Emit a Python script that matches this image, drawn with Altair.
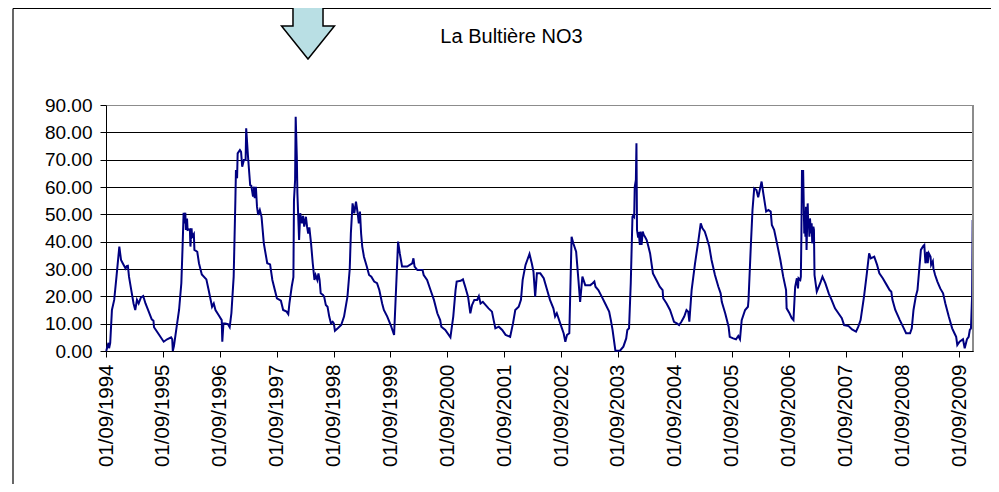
import altair as alt
import pandas as pd

# ---- data (decimal year, NO3 value) ----
years = [
    1994.67, 1994.69, 1994.71, 1994.72, 1994.74, 1994.77, 1994.81, 1994.85, 1994.90, 1994.93,
    1994.96, 1995.01, 1995.03, 1995.05, 1995.07, 1995.11, 1995.15, 1995.18, 1995.21, 1995.24,
    1995.28, 1995.32, 1995.36, 1995.41, 1995.47, 1995.50, 1995.51, 1995.59, 1995.68, 1995.74,
    1995.81, 1995.83, 1995.84, 1995.86, 1995.90, 1995.95, 1995.99, 1996.01, 1996.03, 1996.04,
    1996.06, 1996.07, 1996.09, 1996.10, 1996.14, 1996.15, 1996.17, 1996.18, 1996.21, 1996.22,
    1996.27, 1996.30, 1996.35, 1996.43, 1996.47, 1996.53, 1996.56, 1996.59, 1996.65, 1996.70,
    1996.71, 1996.73, 1996.76, 1996.81, 1996.84, 1996.87, 1996.91, 1996.94, 1996.95, 1996.97,
    1996.98, 1997.02, 1997.04, 1997.06, 1997.09, 1997.12, 1997.13, 1997.16, 1997.20, 1997.22,
    1997.25, 1997.27, 1997.28, 1997.30, 1997.32, 1997.34, 1997.37, 1997.40, 1997.44, 1997.50,
    1997.55, 1997.59, 1997.67, 1997.74, 1997.78, 1997.84, 1997.87, 1997.89, 1997.93, 1997.96,
    1997.97, 1997.99, 1998.00, 1998.02, 1998.03, 1998.06, 1998.08, 1998.11, 1998.13, 1998.15,
    1998.18, 1998.20, 1998.22, 1998.24, 1998.27, 1998.30, 1998.33, 1998.35, 1998.38, 1998.40,
    1998.42, 1998.44, 1998.48, 1998.50, 1998.53, 1998.56, 1998.59, 1998.62, 1998.65, 1998.67,
    1998.69, 1998.74, 1998.80, 1998.85, 1998.91, 1998.95, 1998.97,
    1999.00, 1999.03, 1999.06, 1999.09, 1999.11, 1999.13, 1999.15, 1999.17, 1999.20, 1999.25,
    1999.29, 1999.33, 1999.38, 1999.43, 1999.47, 1999.52, 1999.55, 1999.61, 1999.67, 1999.73,
    1999.80, 1999.83, 1999.87, 1999.96, 2000.05, 2000.07, 2000.09, 2000.14, 2000.23, 2000.25,
    2000.31, 2000.37, 2000.43, 2000.49, 2000.54, 2000.56, 2000.63, 2000.72, 2000.77, 2000.81,
    2000.83, 2000.90, 2000.94, 2000.98, 2001.03, 2001.07, 2001.10, 2001.14, 2001.19, 2001.22,
    2001.25, 2001.29, 2001.34, 2001.39, 2001.45, 2001.48, 2001.51, 2001.57, 2001.63, 2001.69,
    2001.77, 2001.82, 2001.86, 2001.92, 2001.96, 2001.99, 2002.04, 2002.11, 2002.15, 2002.18,
    2002.21, 2002.24, 2002.30, 2002.36, 2002.42, 2002.47, 2002.53, 2002.56, 2002.59, 2002.65,
    2002.71, 2002.74, 2002.77, 2002.81, 2002.85, 2002.88, 2002.93, 2002.97, 2003.00, 2003.04,
    2003.09, 2003.13, 2003.18, 2003.22, 2003.25, 2003.27, 2003.32, 2003.38, 2003.44, 2003.51,
    2003.54, 2003.57, 2003.62, 2003.70, 2003.76, 2003.81, 2003.83, 2003.86, 2003.89, 2003.92,
    2003.93, 2003.95, 2003.96, 2003.98, 2003.99, 2004.00, 2004.02, 2004.03, 2004.05, 2004.06,
    2004.08, 2004.10, 2004.12, 2004.14, 2004.17, 2004.20,
    2004.23, 2004.28, 2004.34, 2004.40, 2004.45, 2004.46, 2004.52, 2004.58, 2004.63, 2004.65,
    2004.70, 2004.74, 2004.78, 2004.83, 2004.87, 2004.90, 2004.92, 2004.96, 2005.02, 2005.08,
    2005.12, 2005.15, 2005.19, 2005.22, 2005.27, 2005.31, 2005.37, 2005.43, 2005.47, 2005.49,
    2005.55, 2005.61, 2005.63, 2005.69, 2005.74, 2005.78, 2005.81, 2005.84, 2005.90, 2005.95,
    2005.96, 2006.00, 2006.03, 2006.06, 2006.10, 2006.13, 2006.19, 2006.22, 2006.27, 2006.31,
    2006.35, 2006.37, 2006.41, 2006.46, 2006.52, 2006.57, 2006.62, 2006.63, 2006.68, 2006.72,
    2006.75, 2006.78, 2006.81, 2006.83, 2006.84, 2006.87, 2006.88, 2006.89, 2006.90, 2006.91,
    2006.92, 2006.94, 2006.95, 2006.96, 2006.97, 2006.98, 2007.00, 2007.01, 2007.02, 2007.03,
    2007.04, 2007.06, 2007.07, 2007.08, 2007.10, 2007.11, 2007.12, 2007.16, 2007.22, 2007.26,
    2007.31, 2007.37, 2007.42, 2007.48, 2007.54, 2007.60, 2007.64, 2007.72, 2007.78, 2007.85,
    2007.89, 2007.93, 2007.99, 2008.04, 2008.08, 2008.11, 2008.17, 2008.22, 2008.26, 2008.32,
    2008.39, 2008.44, 2008.47, 2008.49, 2008.54, 2008.62, 2008.69, 2008.73, 2008.80, 2008.83,
    2008.86, 2008.90, 2008.93, 2008.97, 2008.99, 2009.03, 2009.05, 2009.07, 2009.10, 2009.11,
    2009.13, 2009.16, 2009.17, 2009.20, 2009.21, 2009.24, 2009.28, 2009.33, 2009.38, 2009.42,
    2009.48, 2009.54, 2009.58, 2009.61, 2009.63, 2009.67, 2009.73, 2009.76, 2009.80, 2009.83,
    2009.85, 2009.87, 2009.89, 2009.90,
]

no3 = [
    0.0, 1.6, 3.0, 1.0, 3.0, 15.0, 18.7, 27.2, 38.2, 33.3,
    32.1, 30.2, 31.1, 31.2, 27.2, 22.3, 17.4, 15.0, 18.7, 17.4,
    19.6, 20.1, 17.4, 14.8, 11.6, 11.1, 8.7, 6.2, 3.4, 4.3,
    5.0, 4.3, 0.0, 1.8, 7.7, 15.0, 24.8, 37.0, 50.6, 46.7,
    50.6, 44.3, 48.5, 44.3, 44.5, 38.2, 44.9, 41.8, 42.8, 37.0,
    36.3, 32.1, 28.0, 26.2, 22.3, 16.2, 17.4, 15.0, 13.0, 11.3,
    3.4, 10.1, 10.1, 9.8, 8.7, 13.8, 27.2, 55.2, 66.2, 63.2,
    72.3, 73.5, 72.9, 67.4, 69.9, 69.9, 81.5, 71.7, 60.7, 60.4,
    56.5, 60.1, 55.9, 60.1, 52.8, 49.8, 51.6, 49.1, 39.4, 32.1,
    31.7, 26.0, 19.3, 18.4, 15.0, 14.4, 13.5, 17.4, 23.5, 27.0,
    55.2, 62.6, 85.7, 71.1, 57.7, 40.6, 50.4, 46.7, 49.4, 45.5,
    49.1, 45.5, 43.0, 45.2, 39.4, 32.1, 26.0, 27.8, 26.0, 28.4,
    26.0, 21.1, 20.5, 19.9, 16.8, 16.2, 12.6, 10.1, 10.7, 10.1,
    7.4, 8.3, 9.5, 12.6, 19.9, 30.0, 43.0,
    54.0, 50.4, 54.6, 50.4, 46.7, 51.0, 43.0, 38.2, 34.5, 30.9,
    27.8, 27.2, 25.4, 24.8, 22.3, 17.4, 15.0, 12.6, 9.5, 5.9,
    40.0, 35.7, 30.9, 30.9, 32.1, 33.9, 30.9, 29.6, 29.6, 27.8,
    26.0, 22.3, 18.7, 13.8, 11.3, 8.9, 7.7, 5.0, 12.6, 22.3,
    25.4, 25.7, 26.2, 23.5, 19.9, 13.8, 16.8, 18.7, 18.7, 20.1,
    17.4, 18.0, 16.8, 15.6, 14.4, 11.3, 8.3, 8.9, 7.7, 5.9,
    5.2, 10.1, 15.0, 16.2, 18.7, 26.0, 31.5, 35.5, 32.1, 29.0,
    19.9, 28.4, 28.4, 26.6, 22.3, 18.7, 15.6, 12.6, 13.8, 10.1,
    6.5, 3.4, 5.9, 6.5, 41.8, 39.4, 36.3, 26.0, 18.0, 27.2,
    24.1, 24.1, 24.1, 24.8, 25.4, 23.5, 22.3, 19.9, 17.4, 14.4,
    11.3, 7.7, 0.1, 0.1, 1.6, 4.6, 7.7, 8.3, 24.8, 49.1,
    49.5, 49.0, 60.1, 62.6, 76.0, 44.3, 41.5, 43.5, 38.8, 43.7,
    38.8, 43.7, 42.4, 41.8, 40.6, 38.2,
    35.7, 28.4, 26.0, 23.5, 22.3, 19.3, 17.4, 15.0, 12.0, 10.7,
    10.1, 9.5, 10.7, 12.6, 15.0, 14.4, 10.7, 22.3, 32.1, 40.6,
    46.7, 44.9, 43.7, 41.8, 38.2, 33.3, 27.8, 23.5, 21.1, 18.0,
    13.8, 8.9, 5.2, 4.6, 4.3, 5.5, 4.3, 11.3, 15.0, 16.2,
    18.7, 38.2, 51.6, 59.5, 58.9, 56.2, 62.0, 57.7, 51.0, 51.6,
    51.0, 46.1, 44.3, 39.4, 33.3, 27.2, 22.3, 15.6, 13.8, 12.0,
    11.3, 23.5, 26.6, 22.9, 26.6, 26.0, 27.2, 43.0, 66.2, 58.9,
    66.2, 43.0, 50.4, 41.8, 52.8, 37.0, 54.0, 46.7, 48.0, 41.8,
    48.5, 43.0, 46.7, 39.4, 45.5, 44.3, 27.8, 21.7, 24.8, 27.2,
    24.8, 21.1, 18.7, 15.6, 13.8, 12.0, 9.5, 9.1, 7.9, 7.1,
    8.9, 11.3, 19.9, 28.4, 35.7, 33.9, 34.5, 31.5, 28.4, 26.6,
    24.1, 22.3, 21.7, 18.7, 15.0, 11.3, 8.3, 6.5, 6.5, 8.3,
    15.0, 19.9, 22.3, 32.1, 37.0, 38.4, 38.8, 32.1, 36.3, 32.1,
    35.7, 34.5, 31.5, 32.8, 30.2, 27.8, 25.4, 22.9, 21.1, 17.4,
    12.6, 8.3, 6.5, 5.2, 2.2, 3.4, 4.3, 1.0, 4.3, 5.2,
    7.7, 8.3, 19.9, 47.9,
]

tick_years = list(range(1994, 2010))
y_ticks = [0, 10, 20, 30, 40, 50, 60, 70, 80, 90]
title_text = "La Bultière NO3"

# ---- chart ----
FONT = "Liberation Sans"
W, H = 867, 246
SEPT1 = 243 / 365  # 1 September as a fraction of the year
x_min = 1994 + SEPT1
x_max = 2009.906

df = pd.DataFrame({"t": years, "v": no3, "i": list(range(len(years)))})
one = pd.DataFrame({"a": [0]})

x_axis = alt.Axis(
    values=[y + SEPT1 for y in tick_years],
    labelExpr="'01/09/' + floor(datum.value)",
    labelAngle=-90,
    labelAlign="right",
    labelBaseline="middle",
    labelOverlap=False,
    labelFlush=False,
    labelFont=FONT,
    labelFontSize=20.5,
    labelColor="black",
    labelPadding=7,
    tickSize=6,
    tickColor="black",
    domainColor="black",
    grid=False,
    title=None,
)
y_axis = alt.Axis(
    values=y_ticks,
    format=".2f",
    labelFont=FONT,
    labelFontSize=19,
    labelColor="black",
    labelPadding=8,
    tickSize=6,
    tickColor="black",
    domainColor="black",
    grid=True,
    gridColor=alt.condition("datum.value == 90", alt.value("#8c8c8c"), alt.value("black")),
    gridWidth=1,
    title=None,
)

line = alt.Chart(df).mark_line(color="#000080", strokeWidth=2).encode(
    x=alt.X("t:Q", scale=alt.Scale(domain=[x_min, x_max], nice=False, zero=False), axis=x_axis),
    y=alt.Y("v:Q", scale=alt.Scale(domain=[0, 90], nice=False), axis=y_axis),
    order=alt.Order("i:Q"),
)

right_border = alt.Chart(one).mark_rule(color="#8c8c8c", strokeWidth=2).encode(
    x=alt.value(W), y=alt.value(0), y2=alt.value(H)
)
frame_top = alt.Chart(one).mark_rule(color="black", strokeWidth=1.2).encode(
    x=alt.value(-93), x2=alt.value(900), y=alt.value(-96.5)
)
frame_left = alt.Chart(one).mark_rule(color="black", strokeWidth=1.2).encode(
    x=alt.value(-93), y=alt.value(-96.5), y2=alt.value(390)
)

arrow_path = ("M -0.556 -1.2 L 0.556 -1.2 L 0.556 -0.278 L 0.98 -0.278 "
              "L 0 0.944 L -0.98 -0.278 L -0.556 -0.278 Z")
arrow = alt.Chart(one).mark_point(
    shape=arrow_path, size=2916, filled=True, fill="#B9DFE4",
    stroke="black", strokeWidth=1.5, opacity=1, fillOpacity=1, strokeOpacity=1,
).encode(x=alt.value(202), y=alt.value(-71.5))

title = alt.Chart(one).mark_text(
    text=title_text, font=FONT, fontSize=20, color="black",
    align="center", baseline="middle",
).encode(x=alt.value(405.5), y=alt.value(-68))

chart = alt.layer(frame_top, frame_left, arrow, title, line, right_border).properties(
    width=W,
    height=H,
    autosize=alt.AutoSizeParams(type="none"),
    padding={"left": 98, "top": 97, "right": 18, "bottom": 133},
    background="white",
).configure_view(stroke=None)

chart.save("out.html", embed_options={"renderer": "svg", "actions": False})
